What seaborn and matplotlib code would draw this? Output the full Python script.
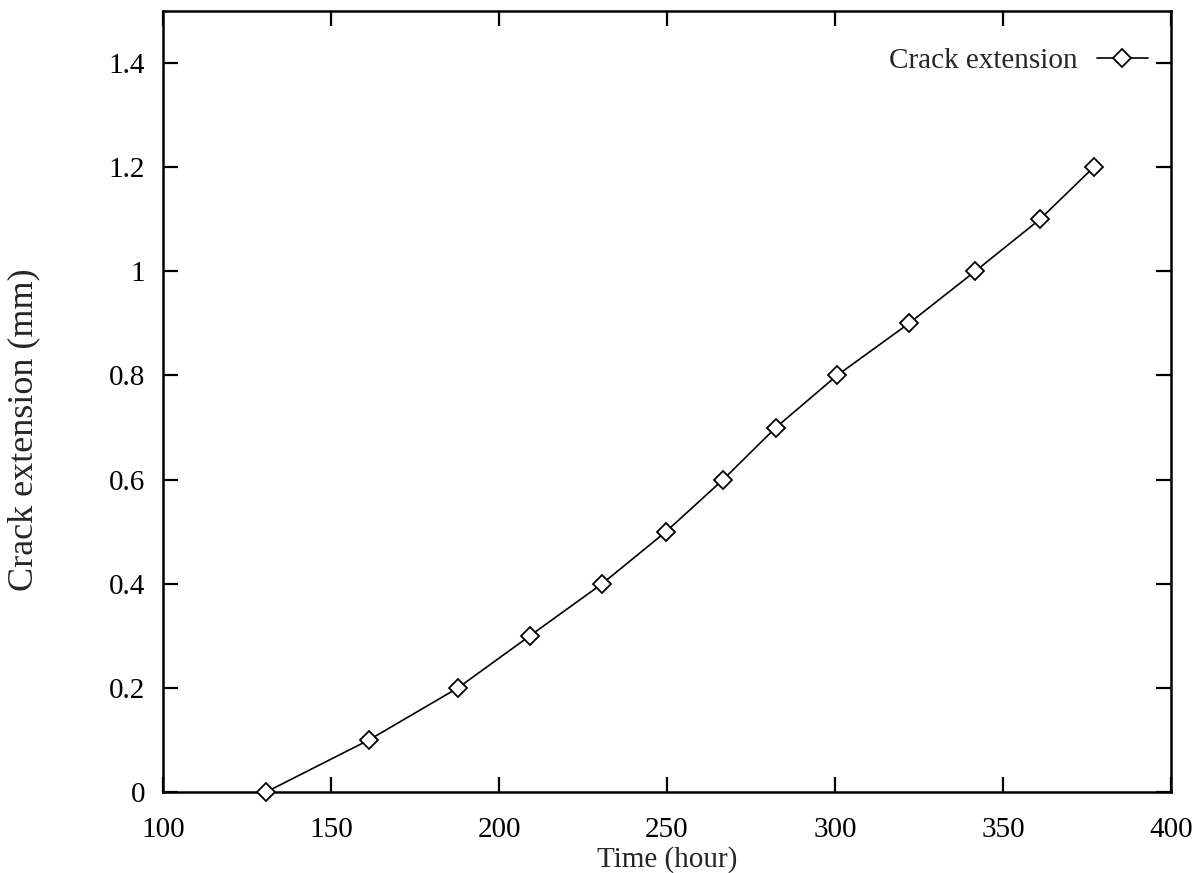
import matplotlib
matplotlib.use("Agg")
import matplotlib.pyplot as plt
import seaborn as sns
import pandas as pd

time_hours = [130.7, 161.3, 187.8, 209.2, 230.7, 249.7, 266.7, 282.4, 300.6, 322.0, 341.7, 361.0, 377.0]
crack_mm = [0.0, 0.1, 0.2, 0.3, 0.4, 0.5, 0.6, 0.7, 0.8, 0.9, 1.0, 1.1, 1.2]
x_ticks = [100, 150, 200, 250, 300, 350, 400]
y_ticks = [0, 0.2, 0.4, 0.6, 0.8, 1.0, 1.2, 1.4]
y_tick_labels = ["0", "0.2", "0.4", "0.6", "0.8", "1", "1.2", "1.4"]
series_name = "Crack extension"

sns.set_style("ticks")
plt.rcParams["font.family"] = ["Liberation Serif", "DejaVu Serif"]

df = pd.DataFrame({"Time (hour)": time_hours, "Crack extension (mm)": crack_mm})

fig = plt.figure(figsize=(12.04, 8.73), dpi=100)
ax = fig.add_axes([163 / 1204, 1 - 792 / 873, (1171 - 163) / 1204, (792 - 11) / 873])

sns.lineplot(data=df, x="Time (hour)", y="Crack extension (mm)", ax=ax,
             color="black", linewidth=1.2, marker="D", markersize=9.5,
             markerfacecolor="white", markeredgecolor="black", markeredgewidth=1.3,
             label=series_name, sort=False, clip_on=False, zorder=5)

ax.set_xlim(100, 400)
ax.set_ylim(0, 1.5)
ax.set_xticks(x_ticks)
ax.set_xticklabels([str(v) for v in x_ticks])
ax.set_yticks(y_ticks)
ax.set_yticklabels(y_tick_labels)

for s in ax.spines.values():
    s.set_visible(True)
    s.set_linewidth(1.8)
    s.set_color("black")

ax.tick_params(axis="both", direction="in", length=11, width=1.6, labelsize=21,
               top=True, right=True, colors="black")
ax.tick_params(axis="x", pad=18)
ax.tick_params(axis="y", pad=13)

ax.set_xlabel("Time (hour)", fontsize=21, labelpad=2)
ax.set_ylabel("Crack extension (mm)", fontsize=26)
ax.yaxis.set_label_coords(-0.122, 0.4635)

leg = ax.legend(loc="upper right", bbox_to_anchor=(0.977, 0.953), frameon=False,
                borderaxespad=0, borderpad=0,
                markerfirst=False, fontsize=21, handlelength=1.75, handletextpad=0.65)

fig.savefig("out.png", dpi=100)
